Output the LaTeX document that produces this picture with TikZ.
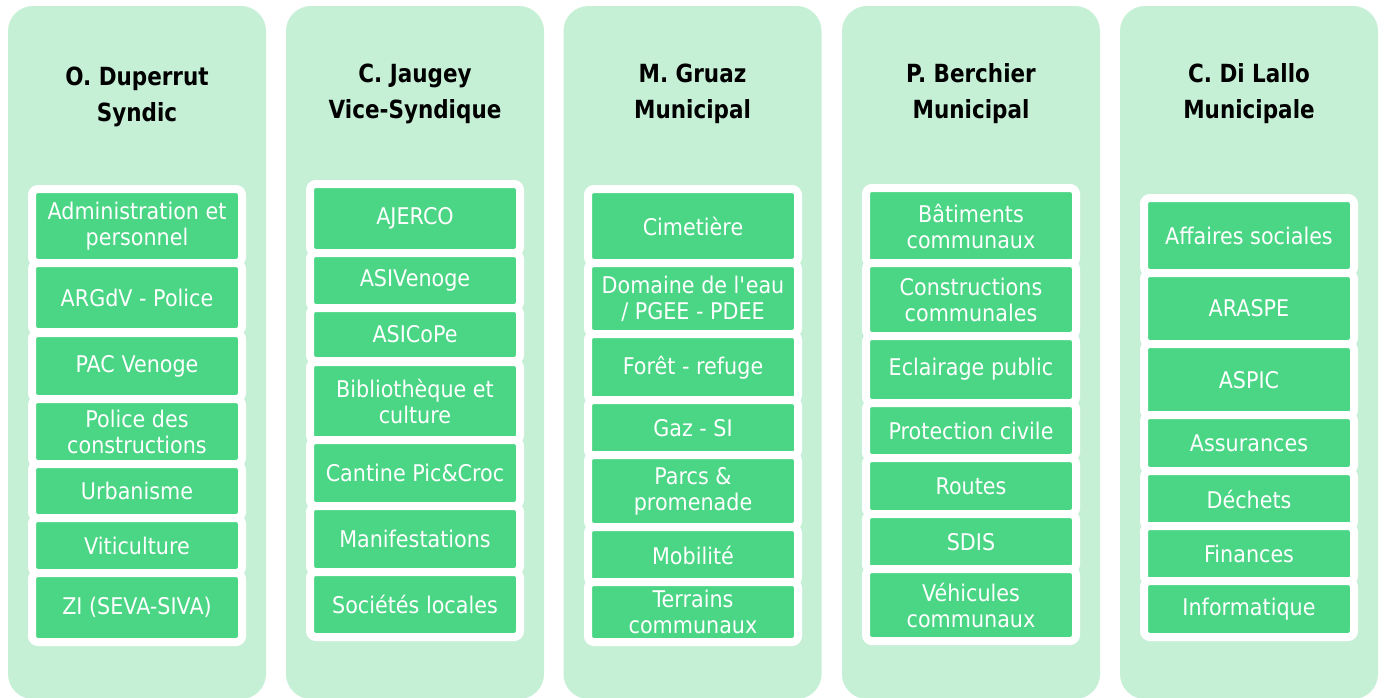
\documentclass[tikz,border=0pt]{standalone}
\usepackage{fontspec}
\setmainfont{DejaVu Sans}[FakeStretch=0.9]
\newfontfamily\ttlfont{DejaVu Sans}[FakeStretch=0.86]
\definecolor{panelgreen}{RGB}{198,240,214}
\definecolor{boxgreen}{RGB}{74,214,132}
\tikzset{
  panel/.style={fill=panelgreen, draw=none, rounded corners=25pt, minimum width=258pt, minimum height=693pt, inner sep=0pt, outer sep=0pt},
  item/.style={fill=boxgreen, draw=white, line width=8pt, rounded corners=6pt, minimum width=210pt, inner sep=0pt, outer sep=0pt, text=white, align=center, font=\fontsize{23}{26}\selectfont},
  ttl/.style={text=black, align=center, inner sep=0pt, font=\ttlfont\bfseries\fontsize{25}{36}\selectfont}
}
\newcommand\itm[5]{\node[item, minimum height={#4-#3+8}] (#1) at (#2,{(#3+#4)/2}) {#5};}
\begin{document}
\begin{tikzpicture}[x=1pt,y=-1pt]
\useasboundingbox (0,0) rectangle (1385,697);
\clip (0,0) rectangle (1385,697);
\fill[white] (0,0) rectangle (1385,697);
% panels
\node[panel] (p1) at (137,352.5) {};
\node[panel] (p2) at (415,352.5) {};
\node[panel] (p3) at (692.5,352.5) {};
\node[panel] (p4) at (971,352.5) {};
\node[panel] (p5) at (1249,352.5) {};
% titles
\node[ttl] (t1) at (137,97) {O. Duperrut\\Syndic};
\node[ttl] (t2) at (415,93.5) {C. Jaugey\\Vice-Syndique};
\node[ttl] (t3) at (692.5,93.5) {M. Gruaz\\Municipal};
\node[ttl] (t4) at (971,93.5) {P. Berchier\\Municipal};
\node[ttl] (t5) at (1249,93.5) {C. Di Lallo\\Municipale};
% column 1
\itm{a1}{137}{193}{259}{Administration et\\personnel}
\itm{a2}{137}{267}{328}{ARGdV - Police}
\itm{a3}{137}{337}{395}{PAC Venoge}
\itm{a4}{137}{403}{460}{Police des\\constructions}
\itm{a5}{137}{468}{514}{Urbanisme}
\itm{a6}{137}{522}{569}{Viticulture}
\itm{a7}{137}{577}{638}{ZI (SEVA-SIVA)}
% column 2
\itm{b1}{415}{188}{249}{AJERCO}
\itm{b2}{415}{257}{304}{ASIVenoge}
\itm{b3}{415}{312}{357}{ASICoPe}
\itm{b4}{415}{366}{437}{Bibliothèque et\\culture}
\itm{b5}{415}{444}{502}{Cantine Pic\&Croc}
\itm{b6}{415}{510}{568}{Manifestations}
\itm{b7}{415}{576}{633}{Sociétés locales}
% column 3
\itm{c1}{693}{193}{259}{Cimetière}
\itm{c2}{693}{267}{330}{Domaine de l\textquotesingle eau\\/ PGEE - PDEE}
\itm{c3}{693}{338}{397}{Forêt - refuge}
\itm{c4}{693}{404}{452}{Gaz - SI}
\itm{c5}{693}{459}{523}{Parcs \&\\promenade}
\itm{c6}{693}{531}{579}{Mobilité}
\itm{c7}{693}{586}{638}{Terrains\\communaux}
% column 4
\itm{d1}{971}{192}{260}{Bâtiments\\communaux}
\itm{d2}{971}{267}{332}{Constructions\\communales}
\itm{d3}{971}{340}{399}{Eclairage public}
\itm{d4}{971}{407}{454}{Protection civile}
\itm{d5}{971}{462}{510}{Routes}
\itm{d6}{971}{518}{566}{SDIS}
\itm{d7}{971}{573}{637}{Véhicules\\communaux}
% column 5
\itm{e1}{1249}{202}{269}{Affaires sociales}
\itm{e2}{1249}{277}{340}{ARASPE}
\itm{e3}{1249}{348}{412}{ASPIC}
\itm{e4}{1249}{419}{467}{Assurances}
\itm{e5}{1249}{475}{523}{Déchets}
\itm{e6}{1249}{530}{578}{Finances}
\itm{e7}{1249}{585}{633}{Informatique}
\end{tikzpicture}
\end{document}
